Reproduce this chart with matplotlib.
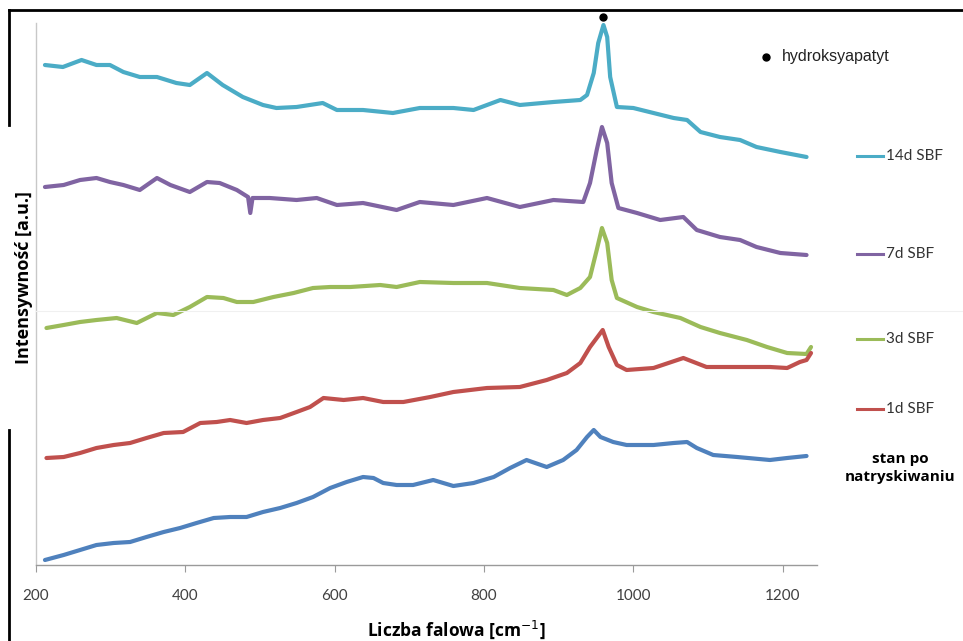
import matplotlib
matplotlib.use("Agg")
import matplotlib.pyplot as plt
from matplotlib.lines import Line2D

# ---------------- data ----------------
x_14d = [212, 236, 261, 281, 299, 317, 339, 362, 388, 406, 429, 450, 477, 504, 522, 549, 584, 603, 638, 678, 714,
         759, 786, 822, 848, 893, 929, 938, 947, 953, 960, 965, 969, 978, 1000, 1027, 1054, 1072, 1090, 1116, 1143,
         1165, 1197, 1232]
y_14d = [500, 498, 505, 500, 500, 493, 488, 488, 482, 480, 492, 480, 468, 460, 457, 458, 462, 455, 455, 452, 457,
         457, 455, 465, 460, 463, 465, 470, 492, 522, 540, 528, 488, 458, 457, 452, 447, 445, 433, 428, 425,
         418, 413, 408]

x_7d = [212, 237, 259, 281, 299, 317, 339, 362, 380, 406, 429, 446, 469, 484, 487, 490, 513, 549, 576, 603, 638, 683,
        714, 759, 804, 848, 893, 933, 942, 951, 958, 965, 971, 980, 1005, 1036, 1067, 1085, 1116, 1143, 1165, 1197, 1232]
y_7d = [378, 380, 385, 387, 383, 380, 375, 387, 380, 373, 383, 382, 375, 368, 352, 367, 367, 365, 367, 360, 362, 355,
        363, 360, 367, 358, 365, 363, 382, 415, 438, 422, 382, 357, 352, 345, 348, 335, 328, 325, 318, 312, 310]

x_3d = [214, 237, 259, 281, 308, 335, 362, 384, 406, 429, 451, 469, 491, 518, 545, 571, 594, 621, 661, 683, 714,
        759, 804, 848, 893, 911, 929, 942, 951, 958, 965, 971, 978, 1005, 1027, 1063, 1090, 1116, 1152, 1179, 1206,
        1232, 1238]
y_3d = [237, 240, 243, 245, 247, 242, 252, 250, 258, 268, 267, 263, 263, 268, 272, 277, 278, 278, 280, 278, 283,
        282, 282, 277, 275, 270, 277, 288, 315, 337, 322, 285, 267, 258, 253, 247, 238, 232, 225, 218, 212,
        211, 218]

x_1d = [214, 237, 259, 281, 304, 326, 348, 371, 397, 420, 442, 460, 482, 504, 527, 549, 567, 585, 612, 638, 665, 692,
        728, 759, 804, 848, 884, 911, 929, 942, 951, 959, 967, 978, 991, 1027, 1067, 1098, 1139, 1183, 1206, 1223,
        1232, 1238]
y_1d = [107, 108, 112, 117, 120, 122, 127, 132, 133, 142, 143, 145, 142, 145, 147, 153, 158, 167, 165, 167, 163, 163,
        168, 173, 177, 178, 185, 192, 202, 218, 227, 235, 218, 200, 195, 197, 207, 198, 198, 198, 197, 203,
        205, 212]

x_0 = [212, 237, 259, 281, 304, 326, 348, 371, 393, 415, 438, 460, 482, 504, 527, 549, 571, 594, 616, 638, 652, 665,
       683, 705, 732, 759, 786, 813, 835, 857, 884, 906, 924, 938, 947, 956, 973, 991, 1027, 1054, 1072, 1085, 1107,
       1139, 1183, 1206, 1232]
y_0 = [5, 10, 15, 20, 22, 23, 28, 33, 37, 42, 47, 48, 48, 53, 57, 62, 68, 77, 83, 88, 87, 82,
       80, 80, 85, 79, 82, 88, 97, 105, 98, 105, 115, 128, 135, 128, 123, 120, 120, 122, 123, 117, 110,
       108, 105, 107, 109]

series_labels = ["14d SBF", "7d SBF", "3d SBF", "1d SBF", "stan po\nnatryskiwaniu"]
series_colors = ["#4BACC6", "#8064A2", "#9BBB59", "#C0504D", "#4F81BD"]
x_ticks = [200, 400, 600, 800, 1000, 1200]
ha_peak = 960
ha_label = "hydroksyapatyt"

# ---------------- figure ----------------
W, H = 963, 641
fig = plt.figure(figsize=(W / 100, H / 100), dpi=100)
fig.patch.set_facecolor("white")

def fx(px):
    return px / W

def fy(py):
    return 1 - py / H

ax_l, ax_r, ax_t, ax_b = 36, 817, 23, 565
ax = fig.add_axes([fx(ax_l), fy(ax_b), (ax_r - ax_l) / W, (ax_b - ax_t) / H])
ax.set_xlim(200, 1246)
ax.set_ylim(0, 542)

xs = [x_14d, x_7d, x_3d, x_1d, x_0]
ys = [y_14d, y_7d, y_3d, y_1d, y_0]
for xv, yv, c in zip(xs, ys, series_colors):
    ax.plot(xv, yv, color=c, lw=3.0, solid_joinstyle="round", solid_capstyle="round")

# hydroxyapatite marker above the 14d peak
ax.plot([ha_peak], [548], "o", color="black", ms=5, clip_on=False)

for s in ["top", "right"]:
    ax.spines[s].set_visible(False)
ax.spines["left"].set_color("#c8c8c8")
ax.spines["bottom"].set_color("#9a9a9a")
ax.spines["left"].set_linewidth(1.0)
ax.spines["bottom"].set_linewidth(1.0)
ax.set_yticks([])
ax.set_xticks(x_ticks)
ax.tick_params(axis="x", direction="out", length=5, color="#9a9a9a", pad=12,
               labelsize=11, labelcolor="#404040")
for lab in ax.get_xticklabels():
    lab.set_fontfamily("Lato")

# axis titles
fig.text(fx(456), fy(630), r"Liczba falowa [cm$^{-1}$]", ha="center", va="center",
         fontsize=12.5, fontweight="bold", family="Open Sans")
fig.text(fx(24), fy(278), "Intensywność [a.u.]", ha="center", va="center", rotation=90,
         fontsize=13, fontweight="bold", family="Open Sans")

# legend-like labels on the right
leg_y = [156, 254, 339, 409]
for lab, c, py in zip(series_labels[:4], series_colors[:4], leg_y):
    fig.add_artist(Line2D([fx(857), fx(883)], [fy(py), fy(py)], color=c, lw=2.2))
    fig.text(fx(886), fy(py), lab, ha="left", va="center", fontsize=11,
             family="Lato", color="#333333")
fig.text(fx(900), fy(468), series_labels[4], ha="center", va="center", fontsize=11,
         fontweight="bold", family="Open Sans", linespacing=1.3)

fig.add_artist(Line2D([fx(766)], [fy(57)], marker="o", color="black", ms=5))
fig.text(fx(782), fy(57), ha_label, ha="left", va="center", fontsize=11.5,
         family="Liberation Sans", color="#222222")

# faint horizontal line and outer frame
fig.add_artist(Line2D([fx(36), 1.0], [fy(311), fy(311)], color="#f0f0f0", lw=0.8))
fig.add_artist(Line2D([fx(9), 1.0], [fy(10), fy(10)], color="black", lw=2))
fig.add_artist(Line2D([fx(9), fx(9)], [fy(10), fy(125)], color="black", lw=2))
fig.add_artist(Line2D([fx(9), fx(9)], [fy(430), 0.0], color="black", lw=2))

fig.savefig("out.png", dpi=100)
